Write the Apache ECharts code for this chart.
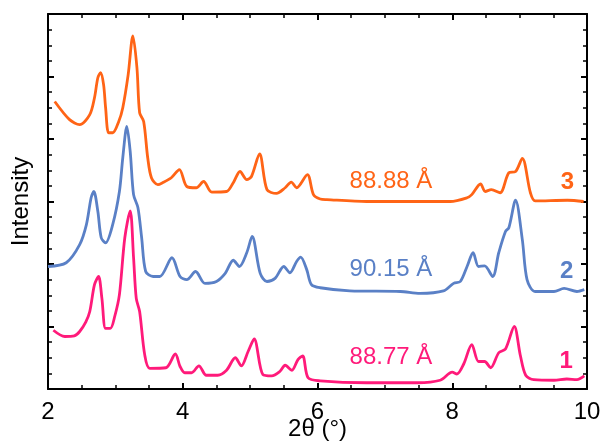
<!DOCTYPE html>
<html>
<head>
<meta charset="utf-8">
<script src="https://cdn.jsdelivr.net/npm/echarts@6/dist/echarts.min.js"></script>
<style>
  html, body { margin: 0; padding: 0; background: #fff; }
  #chart { width: 601px; height: 442px; }
</style>
</head>
<body>
<div id="chart"></div>
<script>
// 2θ positions (deg) and offset intensities
const s1X = [2.08, 2.25, 2.39, 2.47, 2.56, 2.62, 2.69, 2.75, 2.8, 2.855, 2.925, 2.99, 3.06, 3.14, 3.22, 3.27, 3.31, 3.36, 3.435, 3.51, 3.75, 3.89, 3.96, 4.03, 4.13, 4.24, 4.35, 4.52, 4.65, 4.78, 4.87, 4.97, 5.06, 5.19, 5.32, 5.44, 5.52, 5.62, 5.71, 5.78, 5.86, 6.04, 6.73, 7.48, 7.82, 8.0, 8.07, 8.17, 8.29, 8.39, 8.48, 8.57, 8.69, 8.79, 8.92, 9.01, 9.09, 9.21, 9.51, 9.7, 9.85, 9.96];
const s1Y = [0.94, 0.84, 0.85, 0.92, 1.07, 1.24, 1.67, 1.80, 1.45, 0.97, 0.97, 1.16, 1.51, 2.42, 2.85, 2.10, 1.45, 1.24, 0.55, 0.33, 0.34, 0.56, 0.36, 0.26, 0.26, 0.37, 0.22, 0.22, 0.30, 0.50, 0.37, 0.60, 0.80, 0.23, 0.21, 0.28, 0.38, 0.30, 0.47, 0.53, 0.18, 0.13, 0.10, 0.10, 0.14, 0.27, 0.24, 0.40, 0.71, 0.44, 0.44, 0.34, 0.58, 0.64, 1.00, 0.54, 0.22, 0.15, 0.14, 0.16, 0.15, 0.21];

const s2X = [2.0, 2.27, 2.47, 2.57, 2.64, 2.68, 2.74, 2.79, 2.855, 2.96, 3.06, 3.11, 3.17, 3.22, 3.27, 3.335, 3.39, 3.45, 3.56, 3.66, 3.84, 3.96, 4.06, 4.19, 4.33, 4.5, 4.63, 4.75, 4.84, 4.95, 5.03, 5.15, 5.25, 5.37, 5.5, 5.59, 5.69, 5.75, 5.84, 5.91, 6.04, 6.48, 7.23, 7.52, 7.87, 8.02, 8.12, 8.22, 8.31, 8.39, 8.48, 8.6, 8.69, 8.79, 8.84, 8.94, 9.04, 9.11, 9.23, 9.51, 9.66, 9.85, 9.96];
const s2Y = [1.96, 2.02, 2.31, 2.63, 3.06, 3.16, 2.84, 2.42, 2.34, 2.63, 3.16, 3.70, 4.20, 3.80, 3.11, 2.90, 2.42, 1.88, 1.80, 1.80, 2.10, 1.80, 1.75, 1.88, 1.69, 1.72, 1.85, 2.06, 1.96, 2.18, 2.44, 1.85, 1.72, 1.77, 1.96, 1.86, 2.04, 2.11, 1.91, 1.67, 1.62, 1.57, 1.56, 1.53, 1.57, 1.69, 1.72, 1.96, 2.18, 1.96, 1.97, 1.80, 2.18, 2.52, 2.58, 3.02, 2.39, 1.75, 1.56, 1.56, 1.61, 1.56, 1.59];

const s3X = [2.1, 2.32, 2.47, 2.62, 2.69, 2.74, 2.78, 2.825, 2.855, 2.9, 2.96, 3.05, 3.11, 3.19, 3.26, 3.32, 3.36, 3.42, 3.48, 3.535, 3.63, 3.7, 3.83, 3.95, 4.06, 4.2, 4.31, 4.43, 4.65, 4.75, 4.85, 4.95, 5.02, 5.14, 5.25, 5.39, 5.52, 5.61, 5.69, 5.85, 5.94, 6.04, 6.14, 6.73, 7.23, 7.97, 8.22, 8.29, 8.42, 8.49, 8.58, 8.71, 8.84, 8.94, 9.04, 9.16, 9.23, 9.71, 9.95];
const s3Y = [4.60, 4.31, 4.23, 4.39, 4.66, 4.98, 5.06, 4.87, 4.50, 4.10, 4.10, 4.28, 4.50, 5.03, 5.65, 5.14, 4.42, 4.28, 3.70, 3.38, 3.27, 3.30, 3.38, 3.51, 3.24, 3.22, 3.32, 3.15, 3.16, 3.30, 3.48, 3.35, 3.40, 3.76, 3.19, 3.13, 3.22, 3.31, 3.22, 3.43, 3.11, 3.04, 3.03, 3.00, 3.00, 3.00, 3.06, 3.11, 3.28, 3.16, 3.19, 3.14, 3.46, 3.48, 3.69, 3.14, 3.01, 3.02, 3.00];

const xTicks = [2, 4, 6, 8, 10];
const seriesNames = ['1', '2', '3'];
const spacings = ['88.77 Å', '90.15 Å', '88.88 Å'];
// annotation anchors in data coordinates: [x, y]
const spacingPos = [[7.09, 0.51], [7.09, 1.91], [7.09, 3.32]];
const numberPos = [[9.69, 0.45], [9.7, 1.89], [9.71, 3.3]];

const colors = ['#ff1a7a', '#5a80c6', '#ff6416'];
const FONT = 'Liberation Sans, Arial, sans-serif';

function zip(xs, ys) {
  return xs.map((x, i) => [x, ys[i]]);
}

const chart = echarts.init(document.getElementById('chart'));

const tickStyle = { show: true, inside: true, length: 6, lineStyle: { color: '#000', width: 2 } };
const minorStyle = { show: true, splitNumber: 4, length: 4, lineStyle: { color: '#000', width: 1.5 } };
const lineStyleAxis = { show: true, onZero: false, lineStyle: { color: '#000', width: 2 } };

const series = [s1X, s2X, s3X].map((xs, i) => ({
  name: seriesNames[i],
  type: 'line',
  data: zip(xs, [s1Y, s2Y, s3Y][i]),
  showSymbol: false,
  smooth: 0.3,
  z: 3 + i,
  lineStyle: { color: colors[i], width: 2.8 },
  markPoint: {
    symbol: 'circle',
    symbolSize: 0,
    silent: true,
    data: [
      {
        coord: spacingPos[i],
        label: { show: true, formatter: spacings[i], color: colors[i], fontSize: 24, fontFamily: FONT, position: 'inside' }
      },
      {
        coord: numberPos[i],
        label: { show: true, formatter: seriesNames[i], color: colors[i], fontSize: 24, fontWeight: 'bold', fontFamily: FONT, position: 'inside' }
      }
    ]
  }
}));

chart.setOption({
  animation: false,
  grid: { left: 48, right: 14, top: 14, bottom: 53, containLabel: false, outerBoundsMode: 'none' },
  xAxis: [
    {
      type: 'value', min: 2, max: 10, interval: 2,
      axisLine: lineStyleAxis,
      axisTick: tickStyle,
      minorTick: minorStyle,
      splitLine: { show: false },
      axisLabel: {
        color: '#000', fontSize: 24, fontFamily: FONT, margin: 11,
        formatter: v => (xTicks.includes(v) ? String(v) : '')
      },
      name: '2θ (°)', nameLocation: 'middle', nameGap: 28, nameMoveOverlap: false,
      nameTextStyle: { color: '#000', fontSize: 24, fontFamily: FONT }
    },
    {
      type: 'value', min: 2, max: 10, interval: 2, position: 'top',
      axisLine: lineStyleAxis,
      axisTick: tickStyle,
      minorTick: minorStyle,
      splitLine: { show: false },
      axisLabel: { show: false }
    }
  ],
  yAxis: [
    {
      type: 'value', min: 0, max: 6, interval: 1,
      axisLine: lineStyleAxis,
      axisTick: tickStyle,
      minorTick: minorStyle,
      splitLine: { show: false },
      axisLabel: { show: false },
      name: 'Intensity', nameLocation: 'middle', nameGap: 15, nameRotate: 90,
      nameTextStyle: { color: '#000', fontSize: 24, fontFamily: FONT }
    },
    {
      type: 'value', min: 0, max: 6, interval: 1, position: 'right',
      axisLine: lineStyleAxis,
      axisTick: tickStyle,
      minorTick: minorStyle,
      splitLine: { show: false },
      axisLabel: { show: false }
    }
  ],
  series
});
</script>
</body>
</html>
